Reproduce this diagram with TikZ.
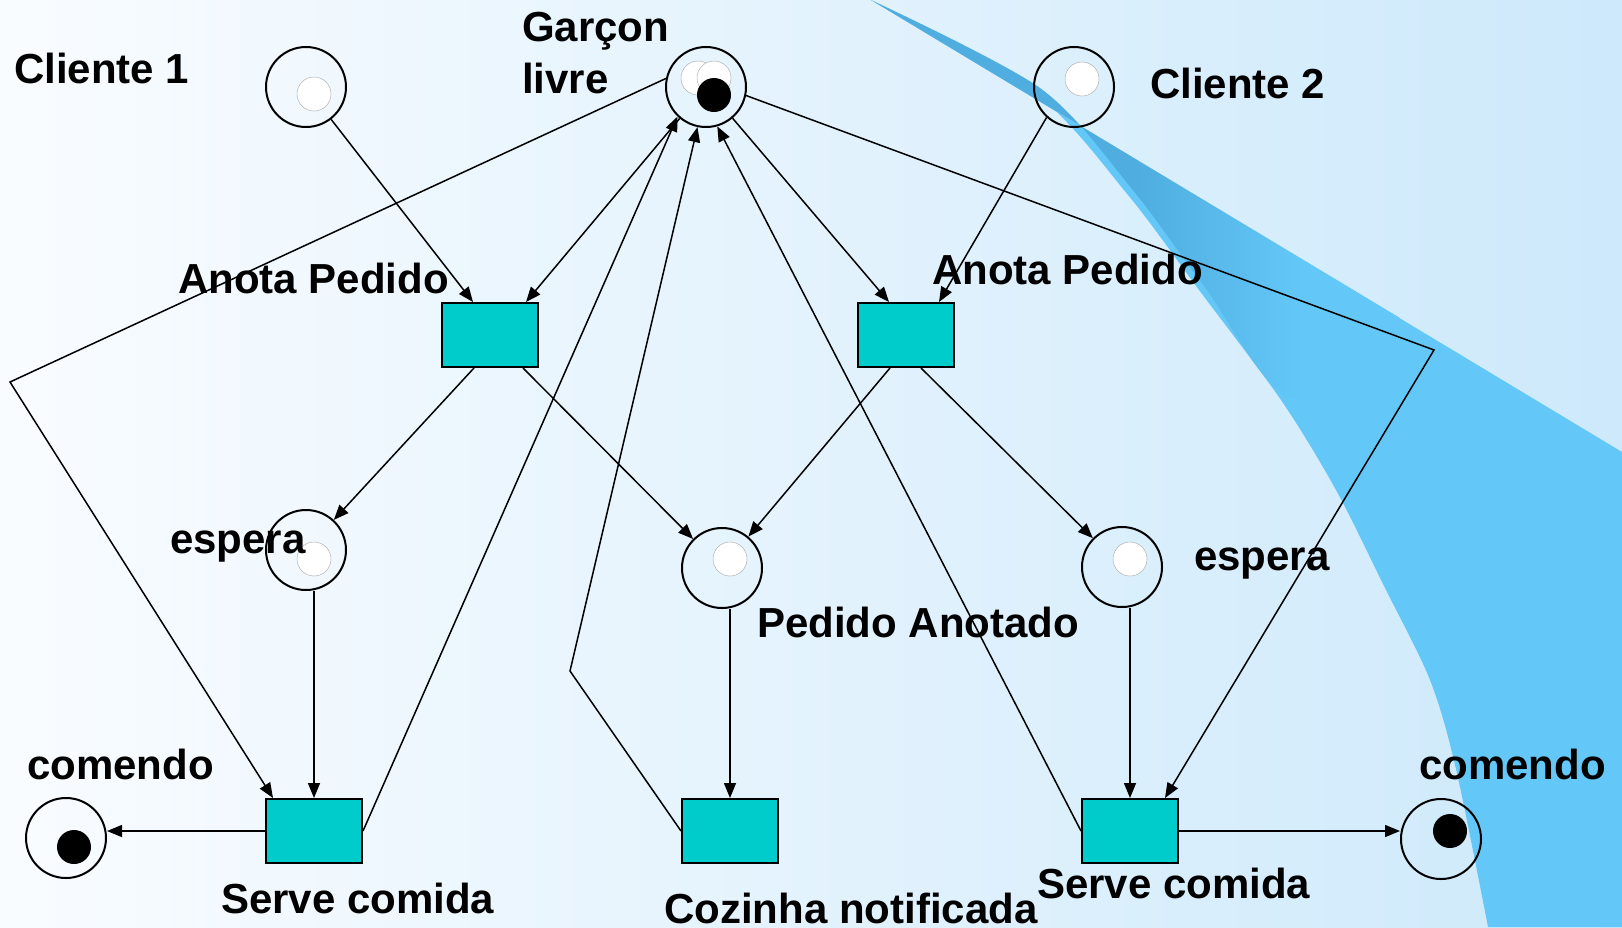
\documentclass[tikz,border=0pt]{standalone}
\usepackage{fontspec}
\setmainfont{Liberation Sans}
\usetikzlibrary{arrows.meta,calc}

\definecolor{bgleft}{HTML}{F9FCFF}
\definecolor{bgright}{HTML}{CDE9FB}
\definecolor{swlight}{HTML}{63C8F8}
\definecolor{swdark}{HTML}{4FADDF}
\definecolor{transfill}{HTML}{00CCCC}

% darker head of the swoosh fading into the lighter body
\pgfdeclarehorizontalshading{swooshshade}{100bp}{%
  color(0bp)=(swdark); color(25bp)=(swdark); color(50bp)=(swdark);
  color(66bp)=(swlight); color(100bp)=(swlight)}

\tikzset{
  place/.style={circle, draw, line width=2pt, minimum size=80pt, inner sep=0pt},
  tokenw/.style={circle, fill=white, draw=black!30, line width=0.5pt, minimum size=34pt, inner sep=0pt},
  tokenb/.style={circle, fill=black, minimum size=34pt, inner sep=0pt},
  transition/.style={rectangle, draw, line width=2pt, fill=transfill,
    minimum width=96pt, minimum height=64pt, inner sep=0pt},
  arc/.style={line width=1.5pt, -{Triangle[length=15pt,width=12pt]}},
  lbl/.style={font=\fontsize{42pt}{50pt}\selectfont\bfseries, anchor=base west, inner sep=0pt},
}

\begin{document}
\begin{tikzpicture}[x=1pt,y=-1pt]
  \useasboundingbox (0,0) rectangle (1622,927);

  % background
  \fill[left color=bgleft, right color=bgright] (0,0) rectangle (1622,927);

  % swoosh body
  \fill[swlight] (871,0) -- (1622,452) -- (1622,927)
    -- plot[smooth] coordinates {(1488,927) (1456,769) (1430,680) (1384,586)
      (1336,490) (1281,400) (1199,290) (1128,195) (1036,94) (871,0)} -- cycle;
  % swoosh head, darker
  \path[shading=swooshshade] (871,0) -- (1400,318)
    -- plot[smooth] coordinates {(1400,318) (1292,398) (1204,286)
      (1132,189) (1040,88) (871,0)} -- cycle;

  % places
  \node[place] (Pc1)   at (306,87)  {};
  \node[place] (Pg)    at (706,87)  {};
  \node[place] (Pc2)   at (1074,87) {};
  \node[place] (Pesp1) at (306,550) {};
  \node[place] (Pped)  at (722,568) {};
  \node[place] (Pesp2) at (1122,567) {};
  \node[place] (Pcom1) at (66,838)  {};
  \node[place] (Pcom2) at (1441,839) {};

  % marks inside the places
  \node[tokenw] (wc1)   at (314,94)  {};
  \node[tokenw] (wg1)   at (698,78)  {};
  \node[tokenw] (wg2)   at (714,78)  {};
  \node[tokenb] (bg)    at (714,95)  {};
  \node[tokenw] (wc2)   at (1082,79) {};
  \node[tokenw] (wesp1) at (314,559) {};
  \node[tokenw] (wped)  at (730,559) {};
  \node[tokenw] (wesp2) at (1130,559) {};
  \node[tokenb] (bcom1) at (74,847)  {};
  \node[tokenb] (bcom2) at (1450,831) {};

  % transitions
  \node[transition] (Ta1)  at (490,335)  {};
  \node[transition] (Ta2)  at (906,335)  {};
  \node[transition] (Ts1)  at (314,831)  {};
  \node[transition] (Tcoz) at (730,831)  {};
  \node[transition] (Ts2)  at (1130,831) {};

  % bend points
  \coordinate (bendL) at (10,382);
  \coordinate (bendR) at (1434,350);
  \coordinate (bendK) at (570,671);

  % arcs
  \draw[arc] (Pc1) -- ([xshift=-17pt]Ta1.north);
  \draw[arc] (Pg) -- ([xshift=-13pt]Ta1.north east);
  \draw[arc] (Pg) -- ([xshift=-17pt]Ta2.north);
  \draw[arc] (Pc2.228) -- ([xshift=33pt]Ta2.north);
  \draw[arc] ([xshift=-16pt]Ta1.south) -- (Pesp1);
  \draw[arc] ([xshift=-16pt]Ta1.south east) -- (Pped);
  \draw[arc] ([xshift=-16pt]Ta2.south) -- (Pped);
  \draw[arc] ([xshift=15pt]Ta2.south) -- (Pesp2);
  \draw[arc] (Ts1.north |- Pesp1.south) -- (Ts1.north);
  \draw[arc] (Tcoz.north |- Pped.south) -- (Tcoz.north);
  \draw[arc] (Ts2.north |- Pesp2.south) -- (Ts2.north);
  \draw[arc] (Ts1.west) -- (Ts1.west -| Pcom1.east);
  \draw[arc] (Ts2.east) -- (Ts2.east -| Pcom2.west);
  \draw[arc] (Pg.168) -- (bendL) -- ([xshift=8pt]Ts1.north west);
  \draw[arc] (Pg.-12) -- (bendR) -- ([xshift=-14pt]Ts2.north east);
  \draw[arc] (Ts1.east) -- (Pg.226);
  \draw[arc] (Tcoz.west) -- (bendK) -- (Pg.258);
  \draw[arc] (Ts2.west) -- (Pg.286);

  % labels
  \node[lbl] (lc1)   at (14,83)    {Cliente 1};
  \node[lbl] (lg1)   at (522,41)   {Garçon};
  \node[lbl] (lg2)   at (522,93)   {livre};
  \node[lbl] (lc2)   at (1150,98)  {Cliente 2};
  \node[lbl] (la1)   at (178,293)  {Anota Pedido};
  \node[lbl] (la2)   at (932,284)  {Anota Pedido};
  \node[lbl] (le1)   at (170,553)  {espera};
  \node[lbl] (le2)   at (1194,570) {espera};
  \node[lbl] (lpa)   at (757,637)  {Pedido Anotado};
  \node[lbl] (lco1)  at (27,779)   {comendo};
  \node[lbl] (lco2)  at (1419,779) {comendo};
  \node[lbl] (ls1)   at (221,913)  {Serve comida};
  \node[lbl] (lcz)   at (664,923)  {Cozinha notificada};
  \node[lbl] (ls2)   at (1037,898) {Serve comida};
\end{tikzpicture}
\end{document}
